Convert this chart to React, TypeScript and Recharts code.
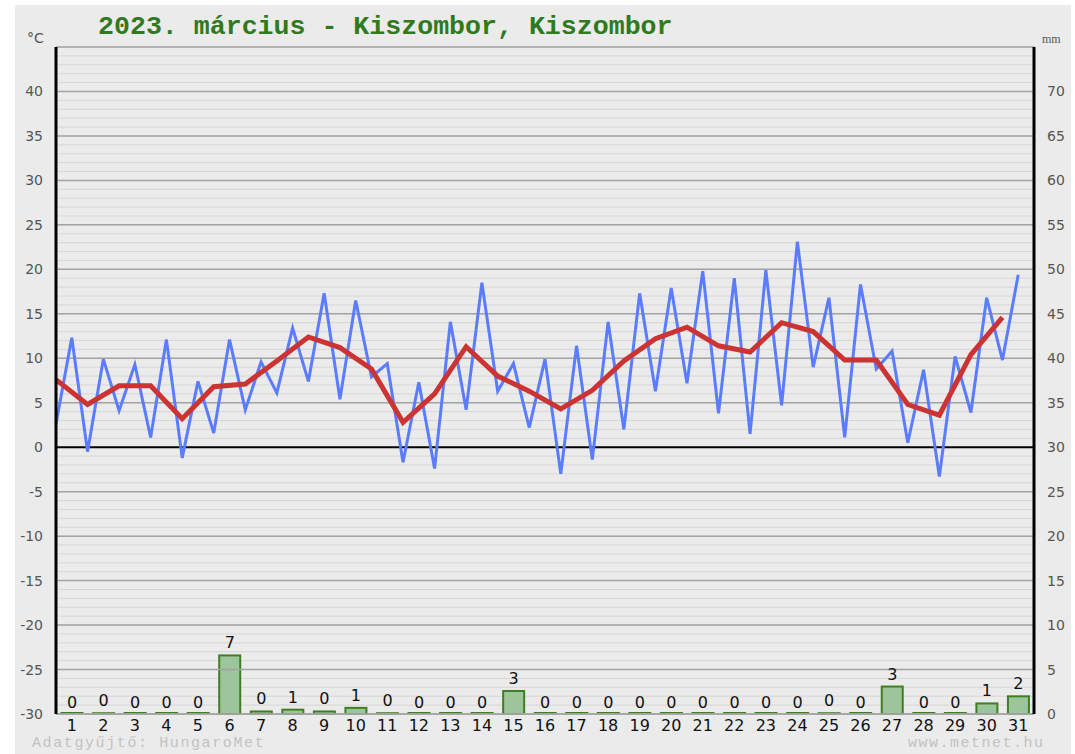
import React from "react";
import {
  ComposedChart,
  Line,
  Bar,
  XAxis,
  YAxis,
  CartesianGrid,
  ReferenceLine,
  LabelList,
} from "recharts";

const days = [1, 2, 3, 4, 5, 6, 7, 8, 9, 10, 11, 12, 13, 14, 15, 16, 17, 18, 19, 20, 21, 22, 23, 24, 25, 26, 27, 28, 29, 30, 31];
const tMin = [2.6, -0.5, 4.1, 1.1, -1.2, 1.6, 4.2, 6.1, 7.4, 5.4, 7.9, -1.7, -2.4, 4.2, 6.3, 2.2, -3.0, -1.4, 2.0, 6.3, 7.2, 3.8, 1.5, 4.7, 9.0, 1.1, 8.8, 0.5, -3.3, 3.9, 9.8];
const tMax = [12.3, 9.9, 9.3, 12.1, 7.4, 12.1, 9.6, 13.4, 17.3, 16.5, 9.4, 7.3, 14.1, 18.5, 9.4, 9.9, 11.4, 14.1, 17.3, 17.9, 19.8, 19.0, 19.9, 23.1, 16.8, 18.3, 10.8, 8.7, 10.2, 16.8, 19.4];
const tMean = [7.6, 4.8, 6.9, 6.9, 3.2, 6.8, 7.1, 9.7, 12.4, 11.2, 8.8, 2.8, 6.0, 11.3, 8.0, 6.3, 4.3, 6.4, 9.7, 12.2, 13.5, 11.4, 10.7, 14.0, 13.0, 9.8, 9.8, 4.8, 3.6, 10.4, 14.6];
const precip = [0, 0.2, 0, 0, 0, 6.7, 0.4, 0.6, 0.4, 0.8, 0.2, 0, 0, 0, 2.7, 0, 0, 0, 0, 0, 0, 0, 0, 0, 0.2, 0, 3.2, 0, 0, 1.3, 2.1];

const tempTicks = [-30, -25, -20, -15, -10, -5, 0, 5, 10, 15, 20, 25, 30, 35, 40];
const mmTicks = [0, 5, 10, 15, 20, 25, 30, 35, 40, 45, 50, 55, 60, 65, 70];
const minorLines = Array.from({ length: 76 }, (_, i) => i - 30);
const majorLines = [-30, -25, -20, -15, -10, -5, 5, 10, 15, 20, 25, 30, 35, 40, 45];
const dayTicks = days.map((d) => d - 0.5);

const rows: any[] = [];
days.forEach((d, i) => {
  rows.push({ x: d - 1, temp: tMin[i], mean: tMean[i] });
  rows.push({ x: d - 0.5, temp: tMax[i], precip: precip[i] });
});

const BAR_W = 23;

const BarShape = (props: any) => {
  const { x, y, width, height, value } = props;
  if (value === undefined || value === null || !isFinite(x) || !isFinite(y)) return null;
  const v = Array.isArray(value) ? value[1] : value;
  if (v === undefined || v === null) return null;
  const cx = x + width / 2;
  const left = cx - BAR_W / 2;
  if (!height || height < 0.8) {
    return <rect x={left} y={y - 2} width={BAR_W} height={2} fill="#3f7f22" />;
  }
  return (
    <rect
      x={left + 1}
      y={y + 1}
      width={BAR_W - 2}
      height={height - 1}
      fill="#9cc59b"
      stroke="#3f7f22"
      strokeWidth={2}
    />
  );
};

export default function App() {
  return (
    <div
      style={{
        position: "absolute",
        left: 0,
        top: 0,
        width: 1075,
        height: 754,
        background: "#ffffff",
        overflow: "hidden",
      }}
    >
      <div
        style={{
          position: "absolute",
          left: 15,
          top: 5,
          width: 1056,
          height: 749,
          background: "#ebebeb",
        }}
      />
      <div
        style={{
          position: "absolute",
          left: 98,
          top: 11,
          fontFamily: "'Liberation Mono', 'DejaVu Sans Mono', monospace",
          fontWeight: "bold",
          fontSize: 26.6,
          color: "#2f7a1f",
          whiteSpace: "nowrap",
          lineHeight: "32px",
        }}
      >
        2023. március - Kiszombor, Kiszombor
      </div>
      <div
        style={{
          position: "absolute",
          left: 27,
          top: 30,
          fontFamily: "'DejaVu Sans', sans-serif",
          fontSize: 14,
          color: "#555",
        }}
      >
        °C
      </div>
      <div
        style={{
          position: "absolute",
          left: 1042,
          top: 32,
          fontFamily: "'Liberation Serif', serif",
          fontSize: 12,
          color: "#555",
        }}
      >
        mm
      </div>
      <div
        style={{
          position: "absolute",
          left: 32,
          top: 736,
          fontFamily: "'Liberation Mono', monospace",
          fontSize: 15,
          letterSpacing: 1.6,
          color: "#c2c2c2",
          whiteSpace: "nowrap",
          lineHeight: "16px",
        }}
      >
        Adatgyűjtő: HungaroMet
      </div>
      <div
        style={{
          position: "absolute",
          left: 908,
          top: 736,
          fontFamily: "'Liberation Mono', monospace",
          fontSize: 15,
          letterSpacing: 1.5,
          color: "#c2c2c2",
          whiteSpace: "nowrap",
          lineHeight: "16px",
        }}
      >
        www.metnet.hu
      </div>
      <div style={{ position: "absolute", left: 0, top: 0 }}>
        <ComposedChart
          width={1075}
          height={754}
          data={rows}
          margin={{ top: 47, right: 6, bottom: 15, left: 16 }}
        >
          <CartesianGrid
            yAxisId="c"
            vertical={false}
            horizontalValues={minorLines}
            stroke="#d6d6d6"
            strokeWidth={1}
          />
          {majorLines.map((v) => (
            <ReferenceLine key={v} yAxisId="c" y={v} stroke="#a3a3a3" strokeWidth={1.5} />
          ))}
          <ReferenceLine yAxisId="c" y={0} stroke="#000000" strokeWidth={2} />
          <XAxis
            dataKey="x"
            type="number"
            domain={[0, 31]}
            ticks={dayTicks}
            tickFormatter={(v: number) => String(Math.round(v + 0.5))}
            interval={0}
            axisLine={{ stroke: "#a3a3a3", strokeWidth: 1.5 }}
            tickLine={false}
            tickMargin={0}
            height={25}
            tick={{ fill: "#111", fontSize: 16, fontFamily: "'DejaVu Sans', sans-serif" }}
          />
          <YAxis
            yAxisId="c"
            orientation="left"
            domain={[-30, 45]}
            ticks={tempTicks}
            interval={0}
            width={40}
            axisLine={{ stroke: "#000", strokeWidth: 3 }}
            tickLine={false}
            tickMargin={7}
            tick={{ fill: "#555", fontSize: 14, fontFamily: "'DejaVu Sans', sans-serif" }}
          />
          <YAxis
            yAxisId="mm"
            orientation="right"
            domain={[0, 75]}
            ticks={mmTicks}
            interval={0}
            width={35}
            axisLine={{ stroke: "#000", strokeWidth: 3 }}
            tickLine={false}
            tickMargin={7}
            tick={{ fill: "#555", fontSize: 14, fontFamily: "'DejaVu Sans', sans-serif" }}
          />
          <Bar
            yAxisId="mm"
            dataKey="precip"
            barSize={23}
            isAnimationActive={false}
            shape={BarShape}
          >
            <LabelList
              dataKey="precip"
              position="top"
              offset={6}
              formatter={(v: any) => (v === undefined || v === null ? "" : String(Math.round(v)))}
              style={{ fill: "#111", fontSize: 16, fontFamily: "'DejaVu Sans', sans-serif" }}
            />
          </Bar>
          <Line
            yAxisId="c"
            dataKey="temp"
            type="linear"
            stroke="#5b7cff"
            strokeWidth={3}
            dot={false}
            activeDot={false}
            isAnimationActive={false}
          />
          <Line
            yAxisId="c"
            dataKey="mean"
            type="linear"
            stroke="#cc3333"
            strokeWidth={5}
            dot={false}
            activeDot={false}
            connectNulls
            isAnimationActive={false}
          />
        </ComposedChart>
      </div>
    </div>
  );
}
